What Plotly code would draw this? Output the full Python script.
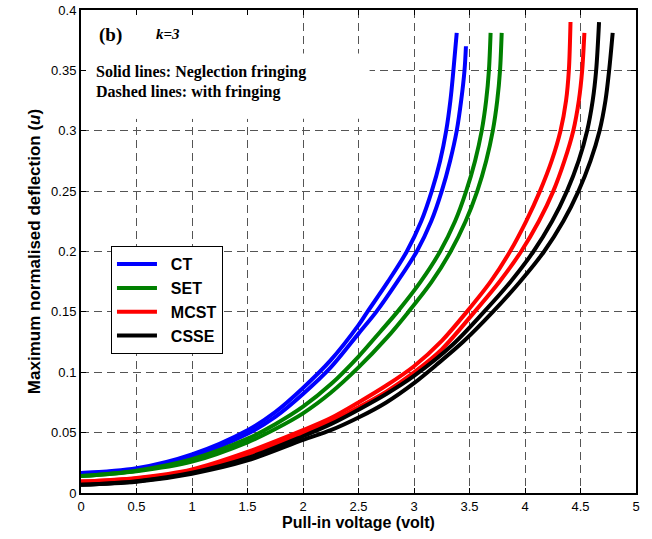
import plotly.graph_objects as go

# ---- data (voltage V, normalised deflection u) ----
ct_a_v = [0, 0.5, 1.0, 1.5, 1.75, 2.0, 2.25, 2.5, 2.58, 2.765, 2.935, 3.065, 3.16, 3.235, 3.29, 3.328, 3.355, 3.385]
ct_a_u = [0.0165, 0.0205, 0.032, 0.052, 0.067, 0.087, 0.110, 0.139, 0.15, 0.175, 0.2, 0.225, 0.25, 0.275, 0.3, 0.325, 0.35, 0.381]
ct_b_v = [0, 0.5, 1.0, 1.5, 1.75, 2.0, 2.25, 2.5, 2.66, 2.85, 3.025, 3.155, 3.25, 3.325, 3.385, 3.425, 3.455, 3.468]
ct_b_u = [0.0165, 0.0195, 0.030, 0.049, 0.063, 0.082, 0.104, 0.132, 0.15, 0.175, 0.2, 0.225, 0.25, 0.275, 0.3, 0.325, 0.35, 0.370]

set_a_v = [0, 0.5, 1.0, 1.5, 1.75, 2.0, 2.25, 2.5, 2.7, 2.85, 3.06, 3.235, 3.37, 3.47, 3.55, 3.61, 3.65, 3.675, 3.69]
set_a_u = [0.014, 0.0185, 0.028, 0.045, 0.057, 0.0715, 0.090, 0.113, 0.134, 0.15, 0.175, 0.2, 0.225, 0.25, 0.275, 0.3, 0.325, 0.35, 0.381]
set_b_v = [0, 0.5, 1.0, 1.5, 1.75, 2.0, 2.25, 2.5, 2.75, 2.95, 3.16, 3.33, 3.465, 3.57, 3.65, 3.71, 3.75, 3.775, 3.79]
set_b_u = [0.014, 0.018, 0.026, 0.042, 0.053, 0.066, 0.083, 0.104, 0.128, 0.15, 0.175, 0.2, 0.225, 0.25, 0.275, 0.3, 0.325, 0.35, 0.381]

mcst_a_v = [0, 0.5, 1.0, 1.5, 2.0, 2.25, 2.5, 2.75, 3.0, 3.25, 3.475, 3.69, 3.865, 4.01, 4.135, 4.24, 4.32, 4.37, 4.395, 4.41]
mcst_a_u = [0.0095, 0.0125, 0.0195, 0.034, 0.052, 0.062, 0.075, 0.089, 0.105, 0.126, 0.15, 0.175, 0.2, 0.225, 0.25, 0.275, 0.3, 0.325, 0.35, 0.39]
mcst_b_v = [0, 0.5, 1.0, 1.5, 2.0, 2.25, 2.5, 2.75, 3.0, 3.25, 3.545, 3.77, 3.965, 4.125, 4.255, 4.355, 4.435, 4.485, 4.515, 4.535]
mcst_b_u = [0.0095, 0.012, 0.0185, 0.032, 0.0497, 0.059, 0.071, 0.084, 0.100, 0.119, 0.15, 0.175, 0.2, 0.225, 0.25, 0.275, 0.3, 0.325, 0.35, 0.381]

csse_a_v = [0, 0.5, 1.0, 1.5, 2.0, 2.25, 2.5, 2.75, 3.0, 3.35, 3.63, 3.87, 4.076, 4.244, 4.378, 4.483, 4.56, 4.61, 4.641, 4.667]
csse_a_u = [0.0068, 0.0098, 0.0168, 0.029, 0.047, 0.057, 0.069, 0.082, 0.097, 0.123, 0.15, 0.175, 0.2, 0.225, 0.25, 0.275, 0.3, 0.325, 0.35, 0.39]
csse_b_v = [0, 0.5, 1.0, 1.5, 2.0, 2.25, 2.5, 2.75, 3.0, 3.2, 3.44, 3.71, 3.955, 4.172, 4.345, 4.482, 4.59, 4.672, 4.725, 4.758, 4.79]
csse_b_u = [0.0068, 0.0093, 0.016, 0.027, 0.044, 0.052, 0.0625, 0.075, 0.091, 0.106, 0.125, 0.15, 0.175, 0.2, 0.225, 0.25, 0.275, 0.3, 0.325, 0.35, 0.381]

series_names = ["CT", "SET", "MCST", "CSSE"]
series_colors = ["#0000FF", "#008000", "#FF0000", "#000000"]
series_data = [
    ((ct_a_v, ct_a_u), (ct_b_v, ct_b_u)),
    ((set_a_v, set_a_u), (set_b_v, set_b_u)),
    ((mcst_a_v, mcst_a_u), (mcst_b_v, mcst_b_u)),
    ((csse_a_v, csse_a_u), (csse_b_v, csse_b_u)),
]

x_ticks = [0, 0.5, 1, 1.5, 2, 2.5, 3, 3.5, 4, 4.5, 5]
y_ticks = [0, 0.05, 0.1, 0.15, 0.2, 0.25, 0.3, 0.35, 0.4]

fig = go.Figure()
for name, color, pair in zip(series_names, series_colors, series_data):
    for i, (vx, uy) in enumerate(pair):
        fig.add_trace(go.Scatter(
            x=vx, y=uy, mode="lines", name="\u00a0\u00a0" + name, legendgroup=name,
            showlegend=(i == 0),
            line=dict(color=color, width=4, shape="spline", smoothing=0.9),
        ))

axis_common = dict(
    showline=True, linecolor="black", linewidth=2, mirror="ticks",
    ticks="inside", ticklen=5, tickwidth=1, tickcolor="black",
    showgrid=True, gridcolor="#555555", gridwidth=1, griddash="8px,5px",
    zeroline=False, automargin=False,
    tickfont=dict(family="Liberation Sans, Arial", size=13, color="black"),
)

fig.update_xaxes(range=[0, 5], tickvals=x_ticks, ticktext=[f"{t:g}" for t in x_ticks],
                 title=dict(text="<b>Pull-in voltage (volt)</b>",
                            font=dict(family="Liberation Sans, Arial", size=16, color="black"),
                            standoff=2),
                 **axis_common)
fig.update_yaxes(range=[0, 0.4], tickvals=y_ticks, ticktext=[f"{t:g}" for t in y_ticks],
                 title=dict(text="<b>Maximum normalised deflection (<i>u</i>)</b>",
                            font=dict(family="Liberation Sans, Arial", size=17, color="black"),
                            standoff=6),
                 **axis_common)

# white panels behind the text block (hide grid, stay under the curves)
fig.add_shape(type="rect", xref="x", yref="y", x0=0, x1=1.95, y0=0.31, y1=0.4,
              fillcolor="white", line_width=0, layer="between")
fig.add_shape(type="rect", xref="x", yref="y", x0=0, x1=2.6, y0=0.31, y1=0.364,
              fillcolor="white", line_width=0, layer="between")

serif = "Liberation Serif, Times New Roman"
fig.add_annotation(x=0.14, y=0.3795, xref="x", yref="y", text="<b>(b)</b>", showarrow=False,
                   xanchor="left", yanchor="middle", font=dict(family=serif, size=19, color="black"))
fig.add_annotation(x=0.66, y=0.3805, xref="x", yref="y", text="<b><i>k=3</i></b>", showarrow=False,
                   xanchor="left", yanchor="middle", font=dict(family=serif, size=15, color="black"))
fig.add_annotation(x=0.115, y=0.349, xref="x", yref="y", text="<b>Solid lines: Neglection fringing</b>",
                   showarrow=False, xanchor="left", yanchor="middle",
                   font=dict(family=serif, size=16, color="black"))
fig.add_annotation(x=0.115, y=0.3325, xref="x", yref="y", text="<b>Dashed lines: with fringing</b>",
                   showarrow=False, xanchor="left", yanchor="middle",
                   font=dict(family=serif, size=16, color="black"))

fig.update_layout(
    width=652, height=539,
    margin=dict(l=81, r=16, t=10, b=46),
    paper_bgcolor="white", plot_bgcolor="white",
    legend=dict(x=0.054, y=0.511, xanchor="left", yanchor="top",
                bgcolor="white", bordercolor="black", borderwidth=1,
                font=dict(family="Liberation Sans, Arial", size=16, color="black", weight="bold"),
                tracegroupgap=0, itemwidth=40),
    showlegend=True,
)

fig.write_html("out.html", config={"displayModeBar": False},
               post_script="document.body.style.margin='0';")
